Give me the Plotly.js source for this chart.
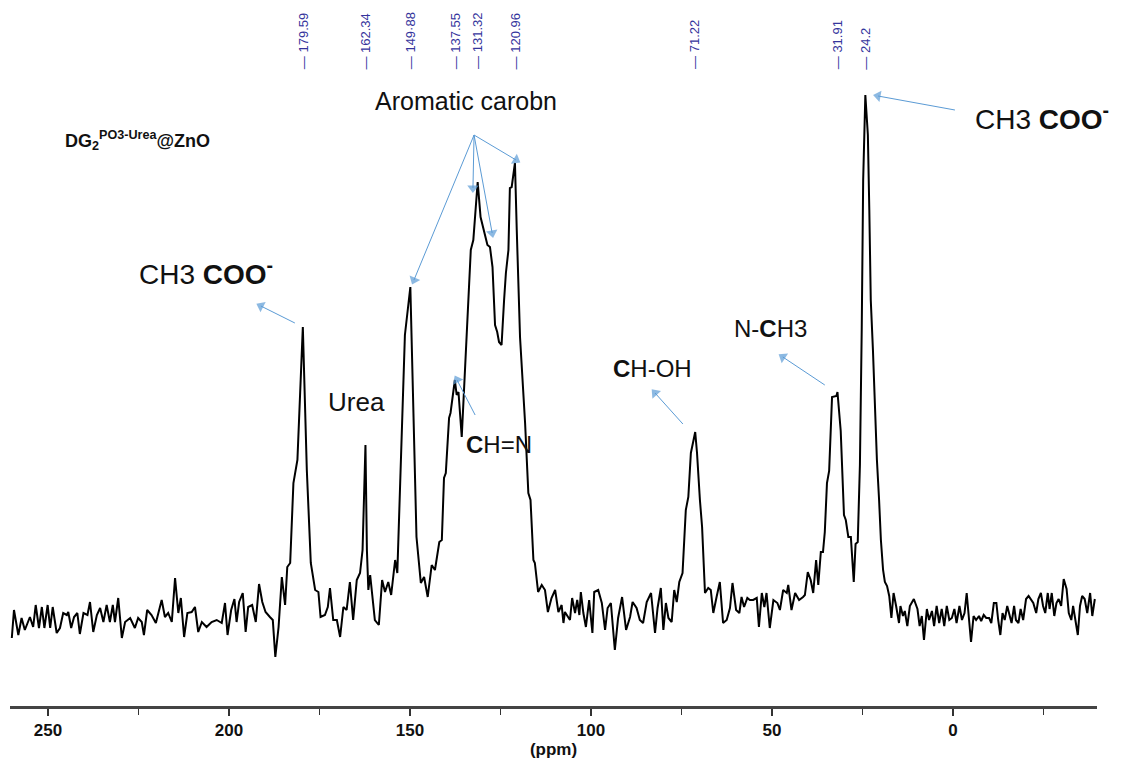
<!DOCTYPE html>
<html><head><meta charset="utf-8">
<script src="https://cdn.plot.ly/plotly-3.0.1.min.js"></script>
<style>html,body{margin:0;padding:0;background:#fff}#chart{width:1123px;height:769px}</style>
</head><body><div id="chart"></div>
<script>
// Chemical shift (ppm) and intensity (a.u.)
const ppm = [
260.0,259.4,258.2,257.3,256.4,255.0,254.1,253.4,252.5,251.7,251.0,250.1,249.4,248.7,247.6,246.7,245.8,244.8,244.4,243.6,
242.8,241.9,241.2,240.2,239.1,238.4,237.5,236.5,235.6,234.7,233.8,232.9,232.1,231.5,230.6,229.6,228.7,227.3,226.0,225.1,
224.1,223.5,222.6,221.4,220.2,218.6,217.7,216.8,215.8,214.9,214.0,213.3,212.4,211.5,210.3,209.4,208.5,207.5,206.2,204.8,
203.4,202.0,201.1,200.4,199.4,198.5,197.9,197.2,196.2,195.4,194.7,193.6,192.6,191.7,
190.8,189.9,188.7,187.9,187.2,186.3,185.4,184.5,183.9,183.1,182.2,181.1,179.6,178.5,177.4,176.2,175.3,174.7,173.5,172.7,
172.1,171.2,170.2,169.3,168.4,167.5,166.6,165.7,164.7,163.8,163.1,162.3,161.9,161.5,161.0,160.4,159.7,158.6,157.7,156.9,
156.0,155.2,154.1,153.5,152.8,151.4,149.9,149.1,148.2,147.0,146.1,145.1,144.0,143.1,141.9,141.2,140.6,140.1,139.2,138.8,
137.6,137.1,136.6,135.7,134.3,133.2,132.5,131.3,130.5,129.3,128.6,127.9,127.2,126.5,125.9,125.4,124.7,124.0,123.5,122.8,
122.4,121.9,121.0,120.5,119.6,118.2,117.3,116.7,115.9,115.5,114.6,113.6,112.7,111.9,110.9,109.9,109.0,108.1,107.6,107.2,
105.8,105.2,104.4,103.8,103.2,102.8,102.1,101.4,100.5,99.6,99.1,98.0,97.0,96.1,95.4,94.5,93.4,92.5,91.4,90.3,
89.2,88.5,87.4,86.5,85.6,84.6,83.4,82.3,81.6,80.7,80.0,79.3,78.6,77.7,77.0,76.3,75.6,74.7,73.8,73.1,
72.4,71.2,70.7,69.9,69.3,68.5,67.6,66.9,66.2,65.3,64.4,63.5,62.5,61.6,60.9,59.9,59.0,58.4,57.7,56.8,
56.1,55.2,54.2,53.6,52.8,52.1,51.5,50.6,49.6,48.5,47.8,46.9,45.9,45.5,44.6,43.6,42.5,41.4,40.9,40.1,
39.3,38.6,37.8,37.2,36.5,35.9,35.4,34.8,34.2,33.4,32.6,32.2,31.9,31.0,30.1,29.6,28.9,28.2,27.4,26.9,
26.3,25.7,25.2,24.8,24.2,23.9,23.5,23.1,22.7,22.1,21.5,21.0,20.4,19.9,19.3,18.8,18.2,17.6,17.0,16.4,
15.7,14.9,14.5,13.8,13.3,12.6,11.9,10.8,9.8,9.2,8.6,8.0,7.2,6.6,5.8,5.2,4.5,3.8,3.1,2.4,
1.7,1.0,0.3,-0.4,-1.0,-1.8,-2.5,-3.2,-3.8,-4.4,-5.0,-5.7,-6.4,-7.2,-7.8,-8.5,-9.2,-10.0,-10.6,-11.3,
-12.0,-12.5,-13.1,-13.7,-14.3,-15.0,-15.6,-16.2,-16.9,-17.4,-18.1,-18.7,-19.4,-20.2,-20.9,-21.5,-22.2,-23.0,-23.6,-24.3,
-24.9,-25.5,-26.2,-26.7,-27.3,-28.0,-28.6,-29.2,-29.9,-30.6,-31.4,-32.0,-32.7,-33.2,-33.9,-34.5,-35.1,-35.7,-36.4,-37.1,
-37.9,-38.5,-39.2
];
const intensity = [
-18,10,-15,2,-10,3,-7,15,-8,13,-8,15,-8,13,-13,-8,7,5,8,-8,
3,7,-14,7,5,18,-12,5,12,-2,15,-2,15,-2,22,-18,-2,2,-8,2,
-2,-15,10,5,-3,20,3,7,-2,42,7,22,-17,7,8,13,-12,-2,-7,-2,
0,-3,17,-15,10,21,-2,18,27,-12,13,15,-2,36,
18,8,3,0,-37,-7,43,15,53,57,137,160,293,150,57,30,28,3,5,13,
32,0,0,-17,13,10,38,0,40,47,70,175,70,30,45,25,0,-5,40,28,
38,25,60,47,120,285,333,217,83,37,43,23,55,50,78,80,142,147,202,207,
240,225,228,183,287,370,380,438,403,387,375,373,353,295,288,278,275,320,347,370,
432,433,457,390,283,197,127,120,60,57,28,35,30,8,22,30,8,15,-3,8,
0,22,7,20,5,28,7,-7,20,-13,28,30,17,-10,12,17,-30,2,23,-10,
3,18,12,0,-3,18,27,-13,12,32,-10,17,2,-2,30,18,38,47,110,123,
167,188,167,120,93,27,32,30,7,23,38,-3,0,12,37,10,7,23,13,22,
20,20,22,-7,27,13,27,-8,20,17,10,30,27,35,10,27,20,23,25,48,
40,27,60,35,68,68,88,137,149,223,224,224,228,189,105,100,83,83,38,76,
78,155,290,440,525,505,485,410,320,270,200,160,120,80,50,38,34,24,2,27,
14,-3,14,4,9,-6,14,21,11,-6,4,-20,11,0,9,-6,14,-3,11,-6,
14,0,2,11,-3,14,0,7,27,4,-22,4,0,4,-1,5,2,2,-3,17,
17,0,-15,7,0,14,4,-3,14,0,-3,11,0,21,24,21,17,7,21,27,
14,7,27,11,27,4,17,21,14,41,31,7,0,14,0,-15,14,24,21,7,
27,4,21
];
const peakPositions = [179.59,162.34,149.88,137.55,131.32,120.96,71.22,31.91,24.2];
const peakLabels = ['179.59','162.34','149·88','137.55','131.32','120.96','71.22','31.91','24.2'];
const xRange = [260.5,-39.8];
const xTickValues = [250,200,150,100,50,0];

// annotation arrows: tail -> head (ppm, intensity)
const arrowTailPpm = [132.3,132.3,132.3,132.3,-0.55,181.8,132.0,74.6,35.4];
const arrowTailInt = [485,485,485,485,510,297,205,196,235];
const arrowHeadPpm = [148.9,132.6,127.3,120.7,20.7,191.2,137.0,82.3,47.0];
const arrowHeadInt = [340,432,387,460,524,314,240,227,263];

// assignment labels
const labelTexts = ['Aromatic carobn','CH3 <b>COO</b><sup><b>-</b></sup>','CH3 <b>COO</b><sup><b>-</b></sup>','Urea',
  '<b>C</b>H=N','<b>C</b>H-OH','N-<b>C</b>H3','<b>DG<sub>2</sub><sup>PO3-Urea</sup>@ZnO</b>'];
const labelPpm = [134.4,-5.6,225.4,164.8,125.4,83.1,50.4,245.8];
const labelInt = [519,503,348,218,176,252,292,480];
const labelSize = [25,28,28,26,24,24,24,18];
const labelAnchor = ['center','left','left','center','center','center','center','left'];

const FONT = 'Liberation Sans, Arial, sans-serif';
const ARROW = '#5b9bd5';

const traces = [{x:ppm,y:intensity,type:'scatter',mode:'lines',line:{color:'#000',width:2},hoverinfo:'x+y'}];
arrowTailPpm.forEach((t,i)=>{
  traces.push({x:[t,arrowHeadPpm[i]],y:[arrowTailInt[i],arrowHeadInt[i]],type:'scatter',mode:'lines+markers',
    line:{color:ARROW,width:1},
    marker:{color:ARROW,symbol:'triangle-up',size:[0,10],angleref:'previous',line:{width:0}},
    hoverinfo:'skip'});
});

const annotations = [];
peakPositions.forEach((p,i)=>{
  annotations.push({x:p,xref:'x',y:0.899,yref:'paper',text:'— '+peakLabels[i],textangle:-90,
    showarrow:false,xanchor:'center',yanchor:'bottom',font:{family:FONT,size:13,color:'#34349c'}});
});
labelTexts.forEach((t,i)=>annotations.push({x:labelPpm[i],y:labelInt[i],xref:'x',yref:'y',text:t,showarrow:false,
  xanchor:labelAnchor[i],yanchor:'middle',font:{family:FONT,size:labelSize[i],color:'#111'}}));

const layout = {
  width:1123,height:769,paper_bgcolor:'#fff',plot_bgcolor:'#fff',showlegend:false,
  margin:{l:10,r:26,t:0,b:63},
  xaxis:{range:xRange,tickvals:xTickValues,ticks:'outside',ticklen:7,tickwidth:1.5,tickcolor:'#333',
    showline:true,linewidth:2.5,linecolor:'#444',showgrid:false,zeroline:false,
    tickfont:{family:'Liberation Sans Narrow, Liberation Sans, Arial',size:17,weight:'bold',color:'#111'},
    minor:{dtick:25,tick0:0,ticks:'outside',ticklen:6,tickwidth:1.5,tickcolor:'#333',showgrid:false},
    title:{text:'(ppm)',standoff:2,font:{family:'Liberation Sans Narrow, Liberation Sans, Arial',size:17,weight:'bold',color:'#111'}}},
  yaxis:{visible:false,range:[-86,620],fixedrange:true},
  annotations:annotations
};
Plotly.newPlot('chart',traces,layout,{displayModeBar:false,staticPlot:true});
</script></body></html>
